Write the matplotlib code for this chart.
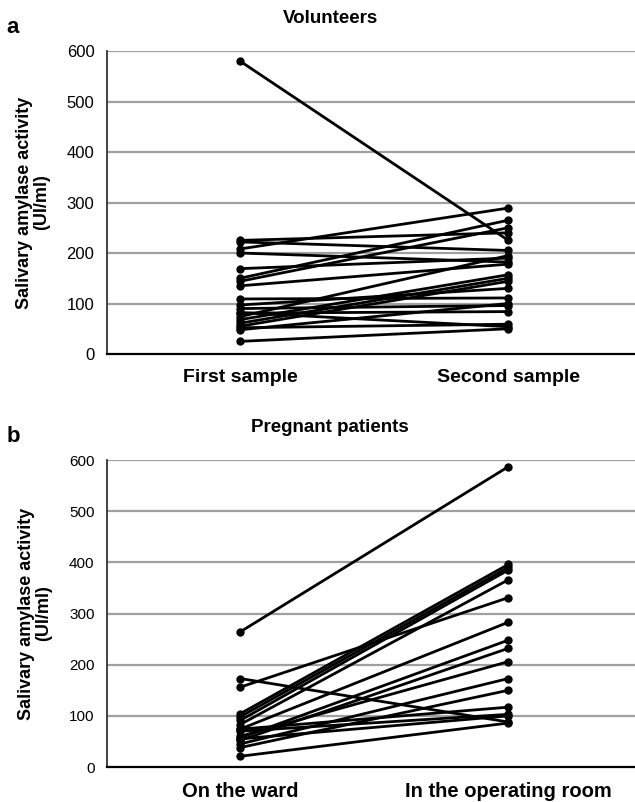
import matplotlib
matplotlib.use("Agg")
import matplotlib.pyplot as plt

# -----------------------------
# Data (UI/ml)
# -----------------------------
vol_labels = ["First sample", "Second sample"]
vol_first = [580, 225, 222, 208, 200, 169, 150, 144, 135, 109, 97,
             90, 81, 74, 68, 61, 55, 52, 48, 82, 25]
vol_second = [225, 240, 205, 289, 182, 190, 265, 250, 178, 111, 130,
              96, 84, 195, 157, 150, 144, 59, 100, 54, 50]

preg_labels = ["On the ward", "In the operating room"]
preg_ward = [264, 173, 156, 104, 98, 91, 83, 74, 57, 52, 60,
             45, 38, 74, 70, 55, 21]
preg_or = [587, 88, 331, 396, 390, 385, 366, 283, 248, 232, 206,
           173, 150, 117, 103, 100, 86]

yticks = [0, 100, 200, 300, 400, 500, 600]

FONT = ["Liberation Sans", "DejaVu Sans"]
plt.rcParams["font.family"] = FONT


def draw_panel(ax, first, second, labels, title, letter, tick_size, xlab_size):
    for a, b in zip(first, second):
        ax.plot([0, 1], [a, b], color="black", linewidth=2.0,
                marker="o", markersize=5, solid_capstyle="round", zorder=3)

    ax.set_xlim(-0.496, 1.471)
    ax.set_ylim(0, 600)
    ax.set_yticks(yticks)
    ax.set_yticklabels([str(t) for t in yticks], fontsize=tick_size)
    ax.set_xticks([0, 1])
    ax.set_xticklabels(labels, fontsize=xlab_size, fontweight="bold")
    ax.tick_params(axis="both", length=0)
    ax.tick_params(axis="y", pad=9)
    ax.tick_params(axis="x", pad=11)

    for t in yticks[1:]:
        ax.axhline(t, color="#a0a0a0", linewidth=1.6, zorder=1)

    for side in ("top", "right"):
        ax.spines[side].set_visible(False)
    ax.spines["left"].set_color("#333333")
    ax.spines["left"].set_linewidth(1.3)
    ax.spines["bottom"].set_color("black")
    ax.spines["bottom"].set_linewidth(1.6)

    ax.set_ylabel("Salivary amylase activity\n(UI/ml)", fontsize=13,
                  fontweight="bold", labelpad=12, linespacing=1.0)
    ax.set_title(title, fontsize=13.5, fontweight="bold", pad=20, x=0.423)
    ax.text(-0.19, 1.06, letter, transform=ax.transAxes, fontsize=16,
            fontweight="bold", va="baseline", ha="left")


fig = plt.figure(figsize=(6.35, 8.02), dpi=100)
ax_a = fig.add_axes([0.1685, 0.5586, 0.831, 0.3778])
ax_b = fig.add_axes([0.1685, 0.0436, 0.831, 0.3828])

draw_panel(ax_a, vol_first, vol_second, vol_labels, "Volunteers", "a", 12, 14)
draw_panel(ax_b, preg_ward, preg_or, preg_labels, "Pregnant patients", "b", 11, 14.5)

fig.savefig("out.png", dpi=100, facecolor="white")
